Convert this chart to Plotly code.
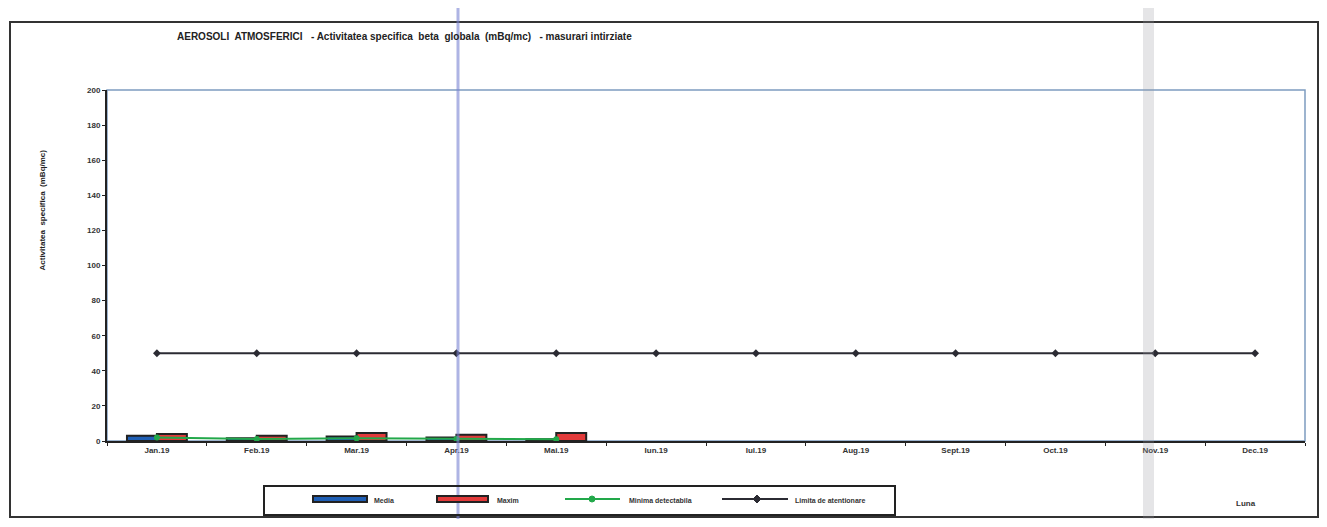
import plotly.graph_objects as go

# data
months = ["Jan.19", "Feb.19", "Mar.19", "Apr.19", "Mai.19", "Iun.19",
          "Iul.19", "Aug.19", "Sept.19", "Oct.19", "Nov.19", "Dec.19"]
measured_months = months[:5]
media = [3.0, 1.5, 2.5, 2.0, 1.0]
maxim = [4.0, 3.0, 4.5, 3.5, 4.5]
minima_detectabila = [2.0, 1.2, 1.5, 1.2, 1.0]
limita_atentionare = [50] * 12

# the page body has an 8px margin, so work in page pixels and shift
OFF = 8
W, H = 1327 - 2 * OFF, 527 - 2 * OFF
PLOT_L, PLOT_R, PLOT_T, PLOT_B = 107, 1305, 90, 441  # page pixels
L, T = PLOT_L - OFF, PLOT_T - OFF
R, B = W - (PLOT_R - OFF), H - (PLOT_B - OFF)
PW, PH = PLOT_R - PLOT_L, PLOT_B - PLOT_T
FONT = "Liberation Sans Narrow, Arial Narrow, Arial, sans-serif"

BLUE, RED, GREEN, DARK = "#1f5fb5", "#e23a3a", "#22a84a", "#2b2b33"


def px_x(x):
    return (x - PLOT_L) / PW


def px_y(y):
    return (PLOT_B - y) / PH


fig = go.Figure()

fig.add_trace(go.Bar(
    x=measured_months, y=media, name="Media",
    marker=dict(color=BLUE, line=dict(color="#222222", width=2)),
))
fig.add_trace(go.Bar(
    x=measured_months, y=maxim, name="Maxim",
    marker=dict(color=RED, line=dict(color="#222222", width=2)),
))
fig.add_trace(go.Scatter(
    x=measured_months, y=minima_detectabila, name="Minima detectabila",
    mode="lines+markers", line=dict(color=GREEN, width=2),
    marker=dict(color=GREEN, size=6),
))
fig.add_trace(go.Scatter(
    x=months, y=limita_atentionare, name="Limita de atentionare",
    mode="lines+markers", line=dict(color=DARK, width=2),
    marker=dict(color=DARK, size=6, symbol="diamond"),
))


def rect(x0, x1, y0, y1, **kw):
    return dict(type="rect", xref="paper", yref="paper",
                x0=px_x(x0), x1=px_x(x1), y0=px_y(y1), y1=px_y(y0), **kw)


def hline(x0, x1, y, color, width):
    return dict(type="line", xref="paper", yref="paper",
                x0=px_x(x0), x1=px_x(x1), y0=px_y(y), y1=px_y(y),
                line=dict(color=color, width=width))


def diamond(cx, cy, r, color):
    pts = [(cx, cy - r), (cx + r, cy), (cx, cy + r), (cx - r, cy)]
    path = "M " + " L ".join(f"{px_x(x)},{px_y(y)}" for x, y in pts) + " Z"
    return dict(type="path", xref="paper", yref="paper", path=path,
                fillcolor=color, line=dict(color=color, width=1))


shapes = [
    # plot frame (light blue)
    dict(type="rect", xref="paper", yref="paper", x0=0, x1=1, y0=0, y1=1,
         line=dict(color="#7d9cc0", width=1.5), layer="below"),
    # outer chart border
    rect(10, 1318, 22, 517, line=dict(color="#333333", width=2)),
    # scanner streaks
    dict(type="line", xref="paper", yref="paper",
         x0=px_x(458), x1=px_x(458), y0=px_y(527), y1=px_y(0),
         line=dict(color="rgba(120,130,210,0.6)", width=3)),
    rect(1143, 1154, 0, 527, fillcolor="rgba(150,150,160,0.25)",
         line=dict(width=0)),
    # legend box and swatches
    rect(264, 895, 486, 515, line=dict(color="#222222", width=2)),
    rect(313, 367, 496, 502, fillcolor=BLUE, line=dict(color="#222222", width=2)),
    rect(437, 488, 496, 502, fillcolor=RED, line=dict(color="#222222", width=2)),
    hline(565, 620, 499, GREEN, 2),
    dict(type="circle", xref="paper", yref="paper",
         x0=px_x(589), x1=px_x(595), y0=px_y(502), y1=px_y(496),
         fillcolor=GREEN, line=dict(color=GREEN, width=1)),
    hline(722, 788, 499, DARK, 2),
    diamond(757, 499, 4, DARK),
]

annotations = [
    dict(text="<b>AEROSOLI  ATMOSFERICI   - Activitatea specifica  beta  globala  (mBq/mc)   - masurari intirziate</b>",
         xref="paper", yref="paper", x=px_x(175), y=px_y(37),
         xanchor="left", yanchor="middle", showarrow=False,
         font=dict(size=10, color="#222222", family=FONT)),
    dict(text="<b>Activitatea  specifica  (mBq/mc)</b>",
         xref="paper", yref="paper", x=px_x(35), y=px_y(210),
         textangle=-90, showarrow=False,
         font=dict(size=8, color="#222222", family=FONT)),
    dict(text="<b>Luna</b>",
         xref="paper", yref="paper", x=px_x(1258), y=px_y(510),
         showarrow=False, font=dict(size=8, color="#333333", family=FONT)),
]
for label, x in [("Media", 372), ("Maxim", 495), ("Minima detectabila", 627),
                 ("Limita de atentionare", 793)]:
    annotations.append(dict(
        text="<b>" + label + "</b>", xref="paper", yref="paper",
        x=px_x(x), y=px_y(500), xanchor="left", yanchor="middle",
        showarrow=False, font=dict(size=7, color="#333333", family=FONT)))

fig.update_layout(
    width=W, height=H,
    margin=dict(l=L, r=R, t=T, b=B),
    paper_bgcolor="white", plot_bgcolor="white",
    barmode="group", bargap=0.4, bargroupgap=0,
    showlegend=False,
    xaxis=dict(
        categoryorder="array", categoryarray=months,
        range=[-0.5, 11.5],
        showline=True, linecolor="#222222", linewidth=2,
        ticks="outside", tickson="boundaries", ticklen=3, tickcolor="#222222",
        showgrid=False,
        tickfont=dict(size=8, color="#333333", family=FONT, weight=700),
    ),
    yaxis=dict(
        range=[0, 200], dtick=20,
        showline=True, linecolor="#222222", linewidth=2,
        ticks="outside", ticklen=3, tickcolor="#222222",
        showgrid=False, zeroline=False,
        tickfont=dict(size=8, color="#333333", family=FONT, weight=700),
    ),
    shapes=shapes,
    annotations=annotations,
)

fig.write_html("out.html")
